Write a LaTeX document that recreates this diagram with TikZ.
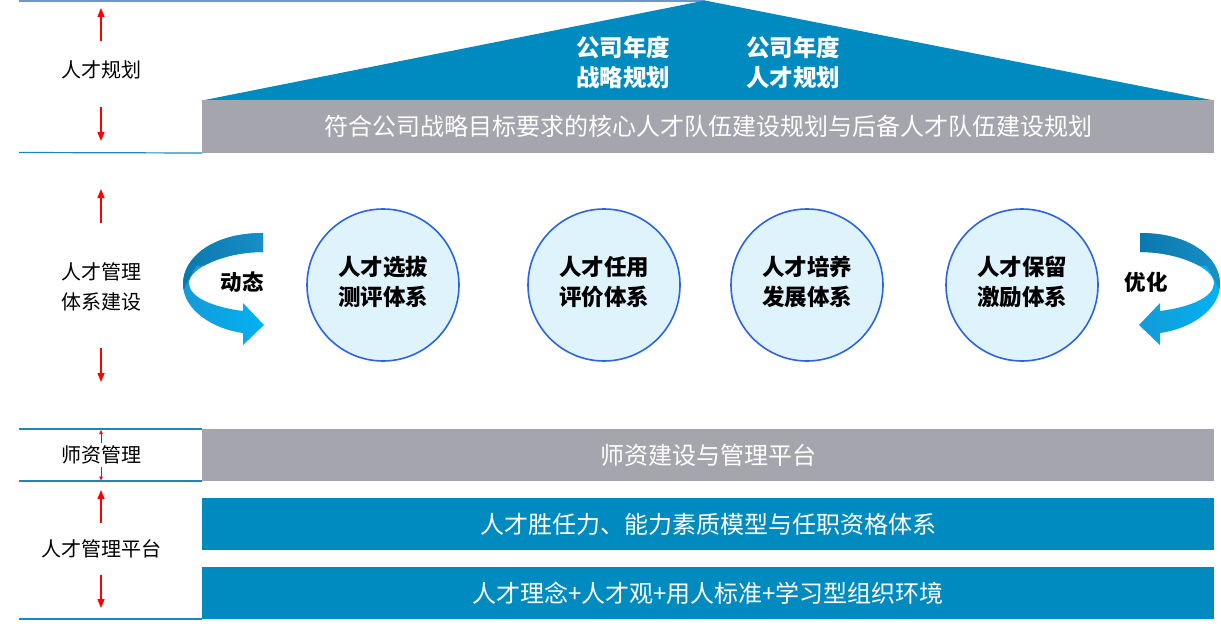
\documentclass[tikz,border=0pt]{standalone}
\usepackage{fontspec}
\setmainfont{Noto Sans CJK SC}
\usetikzlibrary{arrows.meta}
\definecolor{barblue}{HTML}{008BC0}
\definecolor{bargray}{HTML}{A5A5AD}
\definecolor{sepcol}{HTML}{1B87BC}
\definecolor{topline}{HTML}{7094D2}
\definecolor{circfill}{HTML}{DEF3FC}
\definecolor{circdraw}{HTML}{2B63E0}
\definecolor{ribdarkL}{HTML}{0A78AC}
\definecolor{ribdarkR}{HTML}{188FC7}
\definecolor{riblightL}{HTML}{169AD8}
\definecolor{riblightR}{HTML}{00B2F2}
\newcommand{\ribbonOutline}{(263,233) .. controls (212,233) and (183,258) .. (183,284)
     .. controls (183,310) and (213,329) .. (243,333)
     -- (243,345) -- (264,325) -- (243,303) -- (243,311)
     .. controls (212,307) and (189,297) .. (189,283)
     .. controls (189,268) and (225,252) .. (263,252) -- cycle}
\newcommand{\drawRibbon}{%
  \shade[left color=riblightL, right color=riblightR] \ribbonOutline;
  \begin{scope}
    \clip (170,220) -- (280,220) -- (280,262) -- (196,266) -- (180,296) -- (170,296) -- cycle;
    \shade[left color=ribdarkL, right color=ribdarkR] \ribbonOutline;
  \end{scope}
}
\begin{document}
\begin{tikzpicture}[x=1pt,y=-1pt,
  bar/.style={inner sep=0pt, outer sep=0pt, minimum width=1012pt, text=white,
              font=\fontsize{24}{28}\selectfont},
  bluebar/.style={bar, fill=barblue},
  graybar/.style={bar, fill=bargray},
  sepline/.style={draw=sepcol, line width=1.2pt},
  leftlab/.style={align=center, font=\fontsize{20}{30}\selectfont, text=black, inner sep=0pt},
  circ/.style={circle, minimum size=152pt, inner sep=0pt, fill=circfill, draw=circdraw,
               line width=1.6pt},
  circtext/.style={align=center, font=\fontsize{22.5}{30}\selectfont\bfseries, inner sep=0pt},
  toptext/.style={align=center, text=white, font=\fontsize{23.5}{30}\selectfont\bfseries, inner sep=0pt},
  rottext/.style={font=\fontsize{21.5}{24}\selectfont\bfseries, inner sep=0pt},
  redup/.style={draw=red, line width=1.4pt, -{Triangle[length=9pt,width=7pt]}},
  redthin/.style={draw=red, line width=0.6pt, -{Triangle[length=4pt,width=3.5pt]}}
]
\useasboundingbox (0,0) rectangle (1221,627);

% top roof
\draw[draw=topline, line width=1.5pt] (19,0.8) -- (705,0.8);
\fill[barblue] (202,100.5) -- (705,0.5) -- (1214,100.5) -- cycle;
\node[toptext] (roofA) at (623,62) {公司年度\\战略规划};
\node[toptext] (roofB) at (793,62) {公司年度\\人才规划};

% bars
\node[graybar, minimum height=53pt] (plan) at (708,126.5) {符合公司战略目标要求的核心人才队伍建设规划与后备人才队伍建设规划};
\node[graybar, minimum height=52pt] (teach) at (708,455) {师资建设与管理平台};
\node[bluebar, minimum height=52pt] (comp) at (708,524) {人才胜任力、能力素质模型与任职资格体系};
\node[bluebar, minimum height=52pt] (idea) at (708,593) {人才理念+人才观+用人标准+学习型组织环境};

% separator lines
\draw[sepline] (19,152.5) -- (plan.south west);
\draw[sepline] (19,429) -- (teach.north west);
\draw[sepline] (19,481) -- (teach.south west);
\draw[sepline] (19,619) -- (idea.south west);

% left labels
\node[leftlab] (l1) at (101,70) {人才规划};
\node[leftlab] (l2) at (101,287) {人才管理\\体系建设};
\node[leftlab] (l3) at (101,455) {师资管理};
\node[leftlab] (l4) at (101,549) {人才管理平台};

% red arrows
\coordinate (a1s) at (101,41); \coordinate (a1e) at (101,8);
\coordinate (a2s) at (101,107); \coordinate (a2e) at (101,141);
\coordinate (a3s) at (101,223); \coordinate (a3e) at (101,189);
\coordinate (a4s) at (101,348); \coordinate (a4e) at (101,382);
\coordinate (a5s) at (101,443); \coordinate (a5e) at (101,430);
\coordinate (a6s) at (101,467); \coordinate (a6e) at (101,480.5);
\coordinate (a7s) at (101,523); \coordinate (a7e) at (101,490);
\coordinate (a8s) at (101,575); \coordinate (a8e) at (101,608);
\draw[redup] (a1s) -- (a1e);
\draw[redup] (a2s) -- (a2e);
\draw[redup] (a3s) -- (a3e);
\draw[redup] (a4s) -- (a4e);
\draw[redthin] (a5s) -- (a5e);
\draw[redthin] (a6s) -- (a6e);
\draw[redup] (a7s) -- (a7e);
\draw[redup] (a8s) -- (a8e);

% circles
\node[circ] (c1) at (383,285) {};
\node[circ] (c2) at (604,285) {};
\node[circ] (c3) at (807,285) {};
\node[circ] (c4) at (1022,285) {};
\node[circtext] (t1) at (383,282) {人才选拔\\测评体系};
\node[circtext] (t2) at (604,282) {人才任用\\评价体系};
\node[circtext] (t3) at (807,282) {人才培养\\发展体系};
\node[circtext] (t4) at (1022,282) {人才保留\\激励体系};

% curved arrows
\drawRibbon
\begin{scope}[xshift=1403pt, xscale=-1]
\drawRibbon
\end{scope}
\node[rottext] (dyn) at (242,282) {动态};
\node[rottext] (opt) at (1146,282) {优化};
\end{tikzpicture}
\end{document}
